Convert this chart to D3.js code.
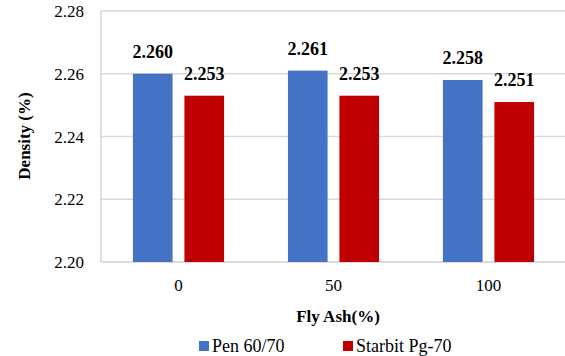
<!DOCTYPE html>
<html>
<head>
<meta charset="utf-8">
<script src="https://cdn.jsdelivr.net/npm/d3@7"></script>
</head>
<body style="margin:0">
<svg id="chart" width="565" height="356"></svg>
<script>
// Fly ash content (%) on the x axis
const categories = ["0", "50", "100"];
// Density values for each binder
const seriesNames = ["Pen 60/70", "Starbit Pg-70"];
const pen6070 = [2.260, 2.261, 2.258];
const starbit = [2.253, 2.253, 2.251];
const yTicks = [2.20, 2.22, 2.24, 2.26, 2.28];
const colors = ["#4472C4", "#C00000"];

const svg = d3.select("#chart");
const W = 565;
const plotBottom = 262, plotTop = 11;

const x0 = d3.scaleBand().domain(categories).range([101, 566]).paddingInner(0).paddingOuter(0);
const x1 = d3.scaleBand().domain(seriesNames).range([0, x0.bandwidth()]).paddingInner(0.23).paddingOuter(0.62);
const y = d3.scaleLinear().domain([2.20, 2.28]).range([plotBottom, plotTop]);

// horizontal gridlines
svg.append("g")
  .selectAll("line")
  .data(yTicks.slice(1))
  .join("line")
  .attr("x1", 101).attr("x2", W)
  .attr("y1", d => y(d)).attr("y2", d => y(d))
  .attr("stroke", "#d9d9d9").attr("stroke-width", 1.3);

// axis lines
svg.append("line").attr("x1", 101).attr("x2", 101).attr("y1", plotTop).attr("y2", plotBottom)
  .attr("stroke", "#d0d0d0").attr("stroke-width", 1.3);
svg.append("line").attr("x1", 101).attr("x2", W).attr("y1", plotBottom).attr("y2", plotBottom)
  .attr("stroke", "#d0d0d0").attr("stroke-width", 1.3);

// every label is collected here and drawn in one pass
const labels = [];
yTicks.forEach(t => labels.push({ x: 84, y: y(t) + 6, anchor: "end", size: 17, bold: false, text: d3.format(".2f")(t) }));
categories.forEach(c => labels.push({ x: x0(c) + x0.bandwidth() / 2, y: 291, anchor: "middle", size: 17, bold: false, text: c }));

// bars
categories.forEach((c, i) => {
  [pen6070[i], starbit[i]].forEach((v, k) => {
    svg.append("rect")
      .attr("x", x0(c) + x1(seriesNames[k]))
      .attr("width", x1.bandwidth())
      .attr("y", y(v))
      .attr("height", plotBottom - y(v))
      .attr("fill", colors[k]);
    labels.push({ x: x0(c) + x1(seriesNames[k]) + x1.bandwidth() / 2, y: y(v) - 16, anchor: "middle", size: 18, bold: true, text: d3.format(".3f")(v) });
  });
});

labels.push({ x: 338, y: 322, anchor: "middle", size: 17, bold: true, text: "Fly Ash(%)" });
labels.push({ x: 212, y: 351.5, anchor: "start", size: 18, bold: false, text: seriesNames[0] });
labels.push({ x: 356, y: 351.5, anchor: "start", size: 18, bold: false, text: seriesNames[1] });

svg.selectAll("text.lbl").data(labels).join("text")
  .attr("class", "lbl")
  .attr("x", d => d.x).attr("y", d => d.y)
  .attr("text-anchor", d => d.anchor)
  .style("font-family", d => `"Liberation Serif"`)
  .style("font-size", d => d.size + "px")
  .style("font-weight", d => d.bold ? "bold" : "normal")
  .text(d => d.text);

// y axis title
svg.append("text")
  .attr("transform", "translate(30,136) rotate(-90)")
  .attr("text-anchor", "middle")
  .style("font-family", `"Liberation Serif"`)
  .style("font-size", "17px").style("font-weight", "bold")
  .text("Density (%)");

// legend swatches
[199, 343].forEach((lx, i) => {
  svg.append("rect").attr("x", lx).attr("y", 341).attr("width", 10).attr("height", 10).attr("fill", colors[i]);
});
</script>
</body>
</html>
